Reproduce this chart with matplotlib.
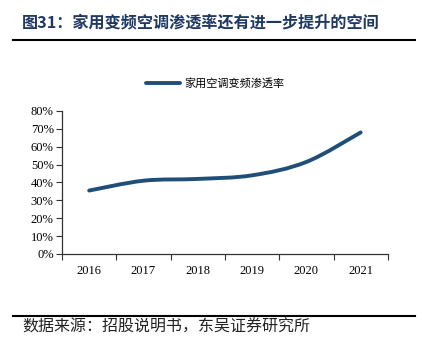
import numpy as np
import matplotlib.pyplot as plt
from matplotlib.path import Path
from matplotlib.patches import PathPatch
from matplotlib.lines import Line2D

plt.rcParams['font.family'] = ['Noto Sans CJK SC', 'DejaVu Sans']

years = ['2016', '2017', '2018', '2019', '2020', '2021']
rate = [35.5, 41.0, 42.0, 44.0, 51.5, 68.0]  # %
series_name = '家用空调变频渗透率'
title = '图31：家用变频空调渗透率还有进一步提升的空间'
source = '数据来源：招股说明书，东吴证券研究所'

line_color = '#1f4e79'
title_color = '#1f3864'


def smooth_path(x, y, t=1 / 6):
    """Bezier path through the points, Catmull-Rom style control points."""
    x = np.asarray(x, float)
    y = np.asarray(y, float)
    verts = [(x[0], y[0])]
    codes = [Path.MOVETO]
    n = len(x)
    for i in range(n - 1):
        p0 = (x[max(i - 1, 0)], y[max(i - 1, 0)])
        p1 = (x[i], y[i])
        p2 = (x[i + 1], y[i + 1])
        p3 = (x[min(i + 2, n - 1)], y[min(i + 2, n - 1)])
        c1 = (p1[0] + (p2[0] - p0[0]) * t, p1[1] + (p2[1] - p0[1]) * t)
        c2 = (p2[0] - (p3[0] - p1[0]) * t, p2[1] - (p3[1] - p1[1]) * t)
        verts += [c1, c2, p2]
        codes += [Path.CURVE4] * 3
    return Path(verts, codes)


fig = plt.figure(figsize=(4.22, 3.43), dpi=100)
ax = fig.add_axes([0.147, 0.2595, 0.772, 0.4169])

xs = np.arange(len(years))
ax.add_patch(PathPatch(smooth_path(xs, rate), facecolor='none',
                       edgecolor=line_color, lw=2.8, capstyle='round'))

ax.set_xlim(-0.5, len(years) - 0.5)
ax.set_ylim(0, 80)
ax.set_yticks(np.arange(0, 81, 10))
ax.set_yticklabels([f'{v}%' for v in range(0, 81, 10)],
                   family='Liberation Serif', fontsize=9)
ax.set_xticks(xs)
ax.set_xticklabels(years, family='Liberation Serif', fontsize=9)
ax.set_xticks(np.arange(-0.5, len(years)), minor=True)
ax.tick_params(axis='x', which='major', length=0, pad=8)
ax.tick_params(axis='x', which='minor', length=4, width=0.8, color='#333333')
ax.tick_params(axis='y', length=4, width=0.8, color='#333333', pad=2)

for side in ['top', 'right']:
    ax.spines[side].set_visible(False)
for side in ['left', 'bottom']:
    ax.spines[side].set_color('#333333')
    ax.spines[side].set_linewidth(0.9)

# legend above the plot
handle = Line2D([], [], color=line_color, lw=2.8, solid_capstyle='round')
fig.legend([handle], [series_name], loc='center', bbox_to_anchor=(0.51, 0.758),
           frameon=False, fontsize=8, handlelength=3.0, handletextpad=0.4)

# title and source lines
fig.text(0.052, 0.935, title, fontsize=11.6, fontweight='bold', color=title_color,
         va='center', ha='left')
fig.add_artist(Line2D([0.031, 0.983], [0.883, 0.883], color='black', lw=1.5))
fig.add_artist(Line2D([0.031, 0.983], [0.079, 0.079], color='black', lw=1.5))
fig.text(0.052, 0.047, source, fontsize=11.5, color='#222222', va='center', ha='left')

fig.savefig('out.png', dpi=100)
